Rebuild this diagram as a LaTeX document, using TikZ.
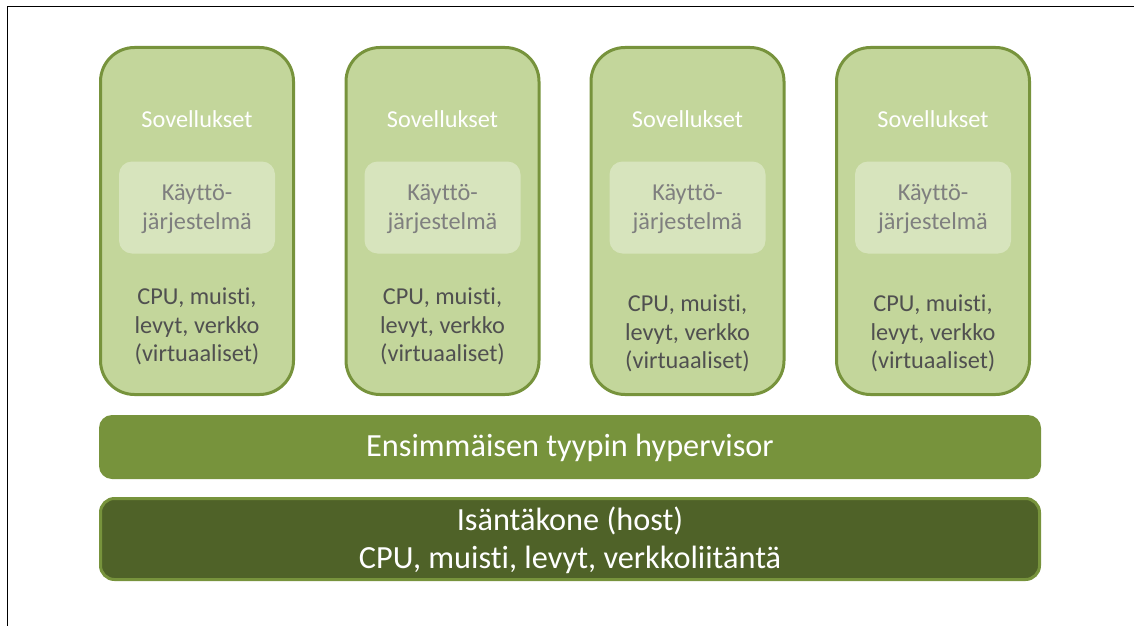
\documentclass[tikz,border=0pt]{standalone}
\usepackage{fontspec}
\setmainfont{Carlito}[RawFeature={-liga;-clig;-dlig;-calt}]
\definecolor{vmfill}{HTML}{C3D69B}
\definecolor{vmline}{HTML}{77933C}
\definecolor{osfill}{HTML}{D7E4BD}
\definecolor{ostext}{HTML}{7F7F7F}
\definecolor{hwtext}{HTML}{505050}
\definecolor{hvfill}{HTML}{77933C}
\definecolor{hostfill}{HTML}{4F6228}
\tikzset{
  vmbox/.style={draw=vmline, line width=3pt, fill=vmfill, rounded corners=34pt,
    minimum width=193pt, minimum height=347pt, inner sep=0pt},
  osbox/.style={fill=osfill, rounded corners=13pt, minimum width=156pt,
    minimum height=92pt, inner sep=0pt},
  apptext/.style={font=\fontsize{24.3}{28.8}\selectfont, text=white, anchor=base, inner sep=0pt},
  ostextstyle/.style={font=\fontsize{24.3}{29}\selectfont, text=ostext, align=center, anchor=north, inner sep=0pt},
  hwtextstyle/.style={font=\fontsize{24.3}{28.8}\selectfont, text=hwtext, align=center, anchor=north, inner sep=0pt},
  hvbox/.style={fill=hvfill, rounded corners=13pt, minimum width=942pt, minimum height=64pt, inner sep=0pt},
  hostbox/.style={draw=vmline, line width=3pt, fill=hostfill, rounded corners=14pt,
    minimum width=939pt, minimum height=81pt, inner sep=0pt},
  bigtext/.style={font=\fontsize{32.3}{38}\selectfont, text=white, align=center, inner sep=0pt},
}
\begin{document}
\begin{tikzpicture}[x=1pt, y=-1pt]
  \useasboundingbox (0,0) rectangle (1134,626);
  % page frame (top and left edges)
  \coordinate (frameTR) at (1134,6.5);
  \coordinate (frameTL) at (7.5,6.5);
  \coordinate (frameBL) at (7.5,626);
  \draw[line width=1.6pt] (frameTR) -- (frameTL) -- (frameBL);

  % four virtual machines
  \foreach \i/\cx/\hy in {1/197/304, 2/442.5/304, 3/687.5/311, 4/933/311} {
    \node[vmbox] (vm\i) at (\cx,221) {};
    \node[osbox] (os\i) at (\cx,207.5) {};
    \node[apptext] (app\i) at (\cx,127.5) {Sovellukset};
    \node[ostextstyle] (ost\i) at (\cx,200-20.3) {\strut Käyttö-\\järjestelmä};
    \node[hwtextstyle] (hw\i) at (\cx,\hy-20.16) {\strut CPU, muisti,\\levyt, verkko\\(virtuaaliset)};
  }

  % hypervisor layer
  \node[hvbox] (hv) at (570,447) {};
  \node[bigtext, anchor=base] (hvtext) at (570,456.5) {Ensimmäisen tyypin hypervisor};

  % host machine
  \node[hostbox] (host) at (570,539) {};
  \node[bigtext, anchor=north] (hosttext) at (570,530-26.6) {\strut Isäntäkone (host)\\CPU, muisti, levyt, verkkoliitäntä};
\end{tikzpicture}
\end{document}
